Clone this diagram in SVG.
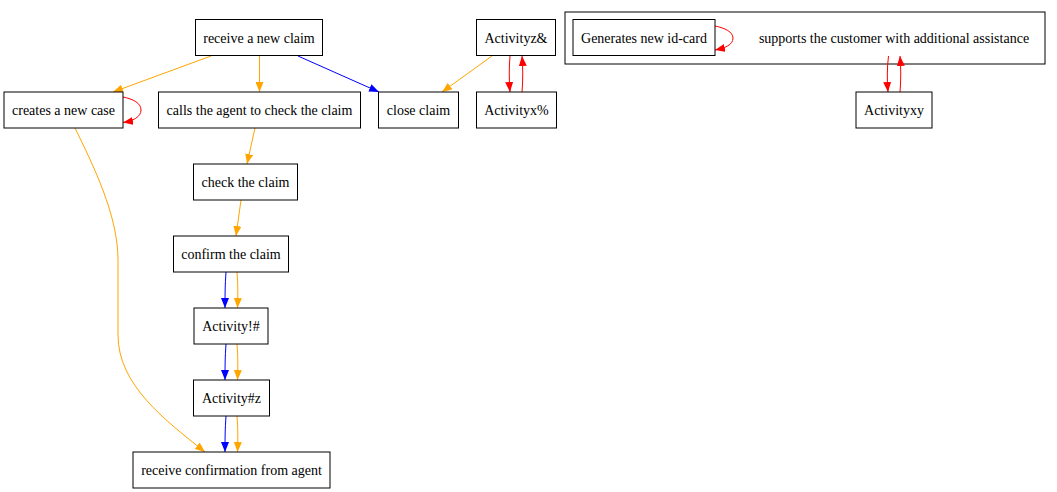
<svg xmlns="http://www.w3.org/2000/svg" width="1057" height="492" viewBox="0 0 1057 492">
<style>
.n rect{fill:#fff;stroke:#000;stroke-width:1}
text{font-family:"Liberation Serif","Times New Roman",serif;font-size:14px;fill:#000;text-anchor:middle;dominant-baseline:central}
.e path{fill:none;stroke-width:1}
.o{stroke:#ffa500;marker-end:url(#ao)}
.b{stroke:#0000ff;marker-end:url(#ab)}
.r{stroke:#ff0000;marker-end:url(#ar)}
</style>
<defs>
<marker id="ao" markerUnits="userSpaceOnUse" markerWidth="10" markerHeight="8" refX="10" refY="4" orient="auto"><path d="M0,0 L10,4 L0,8 z" fill="#ffa500"/></marker>
<marker id="ab" markerUnits="userSpaceOnUse" markerWidth="10" markerHeight="8" refX="10" refY="4" orient="auto"><path d="M0,0 L10,4 L0,8 z" fill="#0000ff"/></marker>
<marker id="ar" markerUnits="userSpaceOnUse" markerWidth="10" markerHeight="8" refX="10" refY="4" orient="auto"><path d="M0,0 L10,4 L0,8 z" fill="#ff0000"/></marker>
</defs>
<rect width="1057" height="492" fill="#fff"/>
<g id="cluster"><rect x="565" y="12" width="480" height="52" fill="none" stroke="#000"/></g>
<g id="connectors" class="e">
<path class="o" d="M211,56 L113,92"/>
<path class="o" d="M259.5,56 L259.5,92"/>
<path class="b" d="M298,56 L379,92"/>
<path class="r" d="M123,97 C133,99 141,103 141,110 C141,117 133,121 123,122.5"/>
<path class="o" d="M75,128 C93,165 118,215 118,260 L118,335 C118,385 165,420 205,452"/>
<path class="o" d="M255,128 L247,164"/>
<path class="o" d="M241,200 L236,236"/>
<path class="b" d="M226,272 C225,285 225,295 225,308"/>
<path class="o" d="M237,272 C238,285 238,295 237.5,308"/>
<path class="b" d="M226,344 C225,357 225,367 225,380"/>
<path class="o" d="M237,344 C238,357 238,367 237.5,380"/>
<path class="b" d="M226,416 C225,429 225,439 225,452"/>
<path class="o" d="M237,416 C238,429 238,439 237.5,452"/>
<path class="o" d="M492,56 L442,92"/>
<path class="r" d="M510,56 C509,68 509,80 510,92"/>
<path class="r" d="M522,92 C523,80 523,68 522,56"/>
<path class="r" d="M715,26 C725,28 733,32 733,38 C733,45 725,48 715,50"/>
<path class="r" d="M888.5,56 C887,68 887,80 888,92"/>
<path class="r" d="M900,92 C901,80 901,68 900,56"/>
</g>
<g id="receive_new_claim" class="n"><rect x="195.5" y="19.5" width="127" height="36"/><text x="259" y="38">receive a new claim</text></g>
<g id="creates_new_case" class="n"><rect x="4" y="92" width="119" height="36"/><text x="63.5" y="110">creates a new case</text></g>
<g id="calls_agent" class="n"><rect x="158.5" y="92" width="202" height="36"/><text x="259.5" y="110">calls the agent to check the claim</text></g>
<g id="close_claim" class="n"><rect x="378.5" y="92" width="80" height="36"/><text x="418.5" y="110">close claim</text></g>
<g id="activityz" class="n"><rect x="476.5" y="19.5" width="79" height="36"/><text x="516" y="38">Activityz&amp;</text></g>
<g id="activityx" class="n"><rect x="476.5" y="92" width="80" height="36"/><text x="516.5" y="110">Activityx%</text></g>
<g id="generates_id_card" class="n"><rect x="573" y="19.5" width="142" height="36"/><text x="644" y="38">Generates new id-card</text></g>
<g id="supports_customer"><text x="894" y="38">supports the customer with additional assistance</text></g>
<g id="activityxy" class="n"><rect x="856" y="92" width="76" height="36"/><text x="894" y="110">Activityxy</text></g>
<g id="check_claim" class="n"><rect x="193.5" y="164" width="104" height="36"/><text x="245.5" y="182">check the claim</text></g>
<g id="confirm_claim" class="n"><rect x="173.5" y="236" width="115" height="36"/><text x="231" y="254">confirm the claim</text></g>
<g id="activity_bang" class="n"><rect x="194" y="308" width="74" height="36"/><text x="231" y="326">Activity!#</text></g>
<g id="activity_hash_z" class="n"><rect x="193.5" y="380" width="76" height="36"/><text x="231.5" y="398">Activity#z</text></g>
<g id="receive_confirmation" class="n"><rect x="133" y="452" width="197" height="36"/><text x="231.5" y="470">receive confirmation from agent</text></g>
</svg>
